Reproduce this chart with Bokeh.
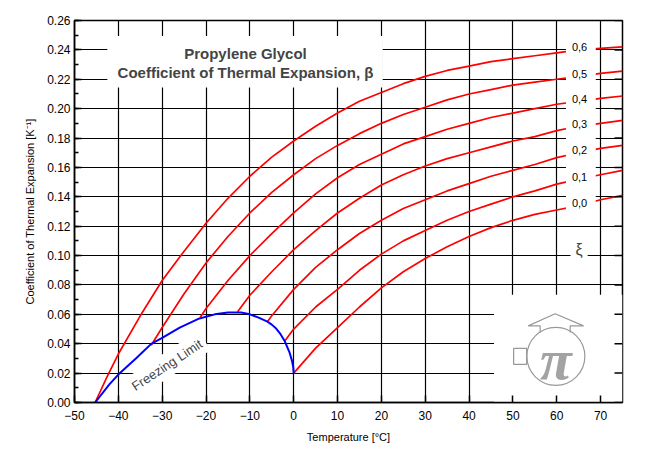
import numpy as np
from bokeh.plotting import figure
from bokeh.models import Range1d, SingleIntervalTicker, NumeralTickFormatter, ColumnDataSource, Label
from bokeh.core.properties import value
from bokeh.embed import file_html
from bokeh.resources import INLINE

# ---------------- data ----------------
xi_labels = ["0,0", "0,1", "0,2", "0,3", "0,4", "0,5", "0,6"]

t_xi00 = [0, 5, 10, 15, 20, 25, 30, 35, 40, 45, 50, 55, 60, 65, 70, 75]
b_xi00 = [0.020, 0.037, 0.051, 0.065, 0.078, 0.089, 0.098, 0.106, 0.113, 0.119, 0.124, 0.128, 0.131, 0.134, 0.138, 0.141]

t_xi01 = [-2, 0, 5, 10, 15, 20, 25, 30, 35, 40, 45, 50, 55, 60, 65, 70, 75]
b_xi01 = [0.042, 0.050, 0.065, 0.077, 0.090, 0.101, 0.110, 0.117, 0.124, 0.130, 0.135, 0.140, 0.144, 0.1486, 0.152, 0.155, 0.158]

t_xi02 = [-6, -5, 0, 5, 10, 15, 20, 25, 30, 35, 40, 45, 50, 55, 60, 65, 70, 75]
b_xi02 = [0.055, 0.059, 0.077, 0.092, 0.104, 0.115, 0.124, 0.132, 0.138, 0.144, 0.149, 0.154, 0.158, 0.162, 0.1667, 0.170, 0.173, 0.175]

t_xi03 = [-12.8, -10, -5, 0, 5, 10, 15, 20, 25, 30, 35, 40, 45, 50, 55, 60, 65, 70, 75]
b_xi03 = [0.0617, 0.073, 0.089, 0.104, 0.117, 0.129, 0.139, 0.148, 0.155, 0.161, 0.166, 0.170, 0.174, 0.178, 0.181, 0.185, 0.188, 0.190, 0.192]

t_xi04 = [-21.3, -20, -15, -10, -5, 0, 5, 10, 15, 20, 25, 30, 35, 40, 45, 50, 55, 60, 65, 70, 75]
b_xi04 = [0.058, 0.064, 0.083, 0.100, 0.115, 0.129, 0.142, 0.153, 0.162, 0.169, 0.176, 0.181, 0.186, 0.190, 0.194, 0.197, 0.200, 0.203, 0.205, 0.207, 0.2086]

t_xi05 = [-32.5, -30, -25, -20, -15, -10, -5, 0, 5, 10, 15, 20, 25, 30, 35, 40, 45, 50, 55, 60, 65, 70, 75]
b_xi05 = [0.039, 0.051, 0.074, 0.095, 0.113, 0.129, 0.143, 0.155, 0.166, 0.175, 0.183, 0.190, 0.196, 0.201, 0.206, 0.210, 0.213, 0.216, 0.218, 0.220, 0.222, 0.224, 0.2255]

t_xi06 = [-45.3, -42.5, -40, -35, -30, -25, -20, -15, -10, -5, 0, 5, 10, 15, 20, 25, 30, 35, 40, 45, 50, 55, 60, 65, 70, 75]
b_xi06 = [0.000, 0.018, 0.033, 0.059, 0.083, 0.103, 0.122, 0.139, 0.154, 0.167, 0.178, 0.188, 0.197, 0.205, 0.211, 0.217, 0.222, 0.226, 0.229, 0.232, 0.234, 0.236, 0.238, 0.240, 0.241, 0.242]

freeze_t = [-45.3, -42, -40, -36, -32.5, -30, -26, -21.5, -18, -15, -12, -10, -8, -6, -5, -4, -3, -2, -1, -0.4, -0.1, 0]
freeze_b = [0.000, 0.0125, 0.019, 0.030, 0.0399, 0.044, 0.051, 0.0572, 0.0600, 0.0613, 0.0613, 0.0600, 0.0578, 0.0550, 0.0530, 0.0503, 0.0465, 0.0415, 0.0345, 0.0285, 0.0240, 0.020]

x_ticks_interval = 10
y_ticks_interval = 0.02
y_max = 0.26

curves_t = [t_xi00, t_xi01, t_xi02, t_xi03, t_xi04, t_xi05, t_xi06]
curves_b = [b_xi00, b_xi01, b_xi02, b_xi03, b_xi04, b_xi05, b_xi06]

FONT = "Liberation Sans"

p = figure(width=640, height=445, x_range=Range1d(-50, 75), y_range=Range1d(0, y_max),
           output_backend="svg", toolbar_location=None,
           min_border_left=74, min_border_right=18, min_border_top=20, min_border_bottom=40)
p.background_fill_color = "white"
p.border_fill_color = "white"
p.outline_line_color = "black"
p.outline_line_width = 1.5

xt = SingleIntervalTicker(interval=x_ticks_interval, num_minor_ticks=2)
yt = SingleIntervalTicker(interval=y_ticks_interval, num_minor_ticks=2)

xa = p.xaxis[0]
xa.ticker = xt
xa.axis_label = "Temperature [°C]"
ya = p.yaxis[0]
ya.ticker = yt
ya.formatter = NumeralTickFormatter(format="0.00")
ya.axis_label = "Coefficient of Thermal Expansion [K⁻¹]"

for ax in (xa, ya):
    ax.axis_line_color = "black"
    ax.axis_line_width = 1.5
    ax.major_tick_in = 7
    ax.major_tick_out = 0
    ax.major_tick_line_color = "black"
    ax.major_tick_line_width = 1.5
    ax.major_label_text_font = FONT
    ax.major_label_text_font_size = "12px"
    ax.major_label_text_color = "black"
    ax.axis_label_text_font = FONT
    ax.axis_label_text_font_size = "11px"
    ax.axis_label_text_font_style = "normal"
    ax.axis_label_text_color = "black"
    ax.major_label_standoff = 4
xa.minor_tick_line_color = None
xa.axis_label_standoff = 8
ya.minor_tick_in = 4
ya.minor_tick_out = 0
ya.minor_tick_line_color = "black"
ya.minor_tick_line_width = 1.5
ya.axis_label_standoff = 8

p.xgrid.ticker = xt
p.ygrid.ticker = yt
for g in (p.xgrid[0], p.ygrid[0]):
    g.grid_line_color = "black"
    g.grid_line_alpha = 1.0
    g.grid_line_width = 1.2

# curves
for tt, bb in zip(curves_t, curves_b):
    p.line(tt, bb, line_color="#ff0000", line_width=1.7)
p.line(freeze_t, freeze_b, line_color="#0000ff", line_width=2)

# white panels (title, label column, logo)
p.quad(left=[-42.5, 62.1, 45.7], right=[20.3, 68.9, 75], bottom=[0.2144, 0.128, 0.0],
       top=[0.2494, 0.2475, 0.0733], fill_color="white", line_color=None)

# right-hand inward tick marks
right_ticks = np.arange(0, y_max + 1e-9, y_ticks_interval)
p.ray(x=[75] * len(right_ticks), y=right_ticks, length=8, length_units="screen",
      angle=np.pi, line_color="black", line_width=1.5)

# logo (pi symbol)
sx = 125 / 547.5
sy = 0.26 / 385
cx, cy = 59.8, 0.0314
p.scatter([cx], [cy], size=58, marker="circle", fill_color="white", line_color="#999999", line_width=1.2)
arrow_dx = [-15.7, -15.7, -27.7, -0.7, 27.7, 14.3, 14.3]
arrow_dy = [-24, -30.7, -30.7, -43, -30.7, -30.7, -24]
p.line([cx + d * sx for d in arrow_dx], [cy - d * sy for d in arrow_dy], line_color="#999999", line_width=1.2)
p.rect([cx - 35.7 * sx], [cy], width=13, height=16, width_units="screen", height_units="screen",
       fill_color="white", line_color="#999999", line_width=1.2)
p.text([cx], [cy - 3 * sy], text=["π"], text_font=value("Liberation Serif"), text_font_size="58px",
       text_color="#a3a3a3", text_align="center", text_baseline="middle", text_font_style="bold italic")

# xi labels at the right
lab_t = [65.2] * len(xi_labels)
lab_b = [bb[tt.index(65)] + 0.0018 for tt, bb in zip(curves_t, curves_b)]
src = ColumnDataSource(dict(x=lab_t, y=lab_b, text=xi_labels))
p.text(x="x", y="y", text="text", source=src, text_font=value(FONT), text_font_size="11px",
       text_align="center", text_baseline="middle", text_color="black")

p.add_layout(Label(x=65.1, y=0.1043, text="ξ", text_font=FONT, text_font_size="16px",
                   text_align="center", text_baseline="middle", background_fill_color="white",
                   padding=5))

# title
p.add_layout(Label(x=-11.0, y=0.2375, text="Propylene Glycol", text_font=FONT, text_font_size="15px",
                   text_font_style="bold", text_align="center", text_baseline="middle"))
p.add_layout(Label(x=-11.0, y=0.2245, text="Coefficient of Thermal Expansion, β", text_font=FONT,
                   text_font_size="15px", text_font_style="bold", text_align="center", text_baseline="middle"))

# freezing limit label
p.add_layout(Label(x=-28.9, y=0.0255, text="Freezing Limit", text_font=FONT, text_font_size="13px",
                   angle=0.583, text_align="center", text_baseline="middle",
                   background_fill_color="white", padding=4))

open("out.html", "w").write(file_html(p, INLINE))
